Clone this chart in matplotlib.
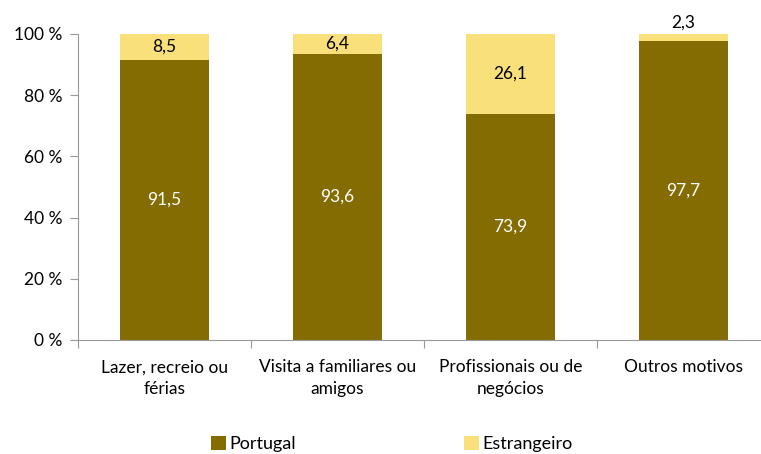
import matplotlib.pyplot as plt
import numpy as np

categories = ['Lazer, recreio ou\nférias', 'Visita a familiares ou\namigos',
              'Profissionais ou de\nnegócios', 'Outros motivos']
portugal = [91.5, 93.6, 73.9, 97.7]
estrangeiro = [8.5, 6.4, 26.1, 2.3]
yticks = [0, 20, 40, 60, 80, 100]

plt.rcParams['font.family'] = ['Lato', 'DejaVu Sans']
plt.rcParams['font.size'] = 12.5

col_pt = '#846C03'
col_es = '#F9E07A'

fig = plt.figure(figsize=(7.61, 4.54), dpi=100)
ax = fig.add_axes([78/761, 1-340/454, 692/761, 306/454])

x = np.arange(len(categories))
w = 0.52
b1 = ax.bar(x, portugal, w, color=col_pt, label='Portugal')
b2 = ax.bar(x, estrangeiro, w, bottom=portugal, color=col_es, label='Estrangeiro')

for i in range(len(categories)):
    ax.text(x[i], portugal[i]/2, f'{portugal[i]:.1f}'.replace('.', ','),
            ha='center', va='center', color='white')
    if estrangeiro[i] > 5:
        ax.text(x[i], portugal[i] + estrangeiro[i]/2, f'{estrangeiro[i]:.1f}'.replace('.', ','),
                ha='center', va='center', color='black')
    else:
        ax.text(x[i], 100 + 1.2, f'{estrangeiro[i]:.1f}'.replace('.', ','),
                ha='center', va='bottom', color='black')

ax.set_xlim(-0.5, len(categories) - 0.5)
ax.set_ylim(0, 100)
ax.set_yticks(yticks)
ax.set_yticklabels([f'{t} %' for t in yticks])
ax.set_xticks(np.arange(len(categories) + 1) - 0.5, minor=False)
ax.set_xticklabels([])
ax.set_xticks(x, minor=True)
ax.set_xticklabels(categories, minor=True, linespacing=1.45)
ax.tick_params(axis='x', which='minor', length=0, pad=14)
ax.tick_params(axis='x', which='major', length=6, color='#999999', direction='out')
ax.tick_params(axis='y', length=6, color='#999999', pad=5)
for s in ['top', 'right']:
    ax.spines[s].set_visible(False)
ax.spines['left'].set_color('#999999')
ax.spines['bottom'].set_color('#999999')

fig.legend(handles=[b1, b2], labels=['Portugal', 'Estrangeiro'], loc='center',
           bbox_to_anchor=(0.515, 1-444/454), ncol=2, frameon=False, fontsize=13,
           handlelength=0.8, handleheight=0.8, handletextpad=0.2, columnspacing=9.3)

fig.savefig('out.png', dpi=100)
